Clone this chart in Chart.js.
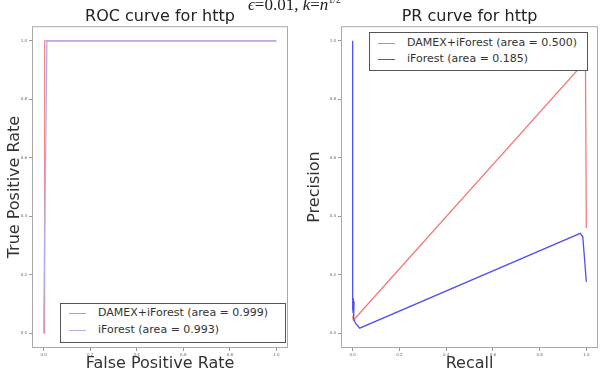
<!DOCTYPE html>
<html>
<head>
<meta charset="utf-8">
<script src="https://cdn.jsdelivr.net/npm/chart.js@4/dist/chart.umd.min.js"></script>
<style>
  body { margin: 0; background: #fff; }
  #wrap { position: relative; width: 603px; height: 380px; overflow: hidden; font-family: 'DejaVu Sans', sans-serif; }
  canvas { position: absolute; top: 0; }
  #roc { left: 0; }
  #pr { left: 300px; }
  .suptitle { position: absolute; left: 248px; top: -6px; font-family: 'Liberation Serif', serif; font-size: 17px; color: #222; white-space: nowrap; }
  .suptitle sup { font-size: 10px; }
  .legend { position: absolute; background: #fff; border: 1px solid #555; font-size: 11px; color: #333; }
  .legend .swatch { position: absolute; width: 17px; height: 0; border-top: 1px solid; }
  .legend .txt { position: absolute; line-height: 13px; white-space: nowrap; }
</style>
</head>
<body>
<div id="wrap">
  <canvas id="roc" width="300" height="380"></canvas>
  <canvas id="pr" width="303" height="380"></canvas>
  <div class="suptitle"><i>ϵ</i>=0.01, <i>k</i>=<i>n</i><sup>1/2</sup></div>
  <div class="legend" id="rocLegend" style="left:60px; top:303px; width:224px; height:38px;"></div>
  <div class="legend" id="prLegend" style="left:369px; top:32px; width:217px; height:37px;"></div>
</div>
<script>
// ROC curve values
const rocFprDamex = [0.003, 0.004, 1.0];
const rocTprDamex = [0.0, 1.0, 1.0];
const rocFprIforest = [0.0, 0.014, 1.0];
const rocTprIforest = [0.0, 1.0, 1.0];
const rocLabels = ['DAMEX+iForest (area = 0.999)', 'iForest (area = 0.993)'];

// PR curve values
const prRecallDamex = [0.0, 0.003, 0.985, 0.996, 1.0];
const prPrecisionDamex = [0.06, 0.045, 0.92, 0.99, 0.36];
const prRecallIforest = [0.0, 0.0, 0.003, 0.001, 0.006, 0.004, 0.012, 0.03, 0.974, 0.985, 1.0];
const prPrecisionIforest = [1.0, 0.08, 0.12, 0.07, 0.11, 0.05, 0.035, 0.018, 0.342, 0.33, 0.176];
const prLabels = ['DAMEX+iForest (area = 0.500)', 'iForest (area = 0.185)'];

const tickValues = [0.0, 0.2, 0.4, 0.6, 0.8, 1.0];

function toPoints(xs, ys) {
    return xs.map((x, i) => ({x: x, y: ys[i]}));
}

const framePlugin = {
    id: 'frame',
    afterDraw(chart) {
        const {ctx, chartArea: a} = chart;
        ctx.save();
        ctx.strokeStyle = '#aaa';
        ctx.lineWidth = 1;
        ctx.strokeRect(a.left + 0.5, a.top + 0.5, a.right - a.left - 1, a.bottom - a.top - 1);
        ctx.restore();
    }
};

function axis(title, titlePadding, fitSize, horizontal) {
    return {
        type: 'linear',
        min: -0.05,
        max: 1.05,
        afterBuildTicks: s => { s.ticks = tickValues.map(v => ({value: v})); },
        afterFit: s => { if (horizontal) s.height = fitSize; else s.width = fitSize; },
        border: {display: false},
        grid: {drawOnChartArea: false, tickLength: 3, color: '#999'},
        ticks: {
            font: {size: 4, family: 'DejaVu Sans'},
            color: '#666',
            padding: 2,
            maxRotation: 0,
            autoSkip: false,
            callback: v => v.toFixed(1)
        },
        title: {
            display: true,
            text: title,
            color: '#333',
            font: {size: 16, family: 'DejaVu Sans'},
            padding: titlePadding
        }
    };
}

function makeChart(id, title, sets, xTitle, yTitle, yWidth, rightPad) {
    return new Chart(document.getElementById(id), {
        type: 'scatter',
        data: {datasets: sets},
        options: {
            responsive: false,
            animation: false,
            layout: {padding: {left: 0, right: rightPad, top: 0, bottom: 0}},
            plugins: {
                legend: {display: false},
                tooltip: {enabled: false},
                title: {
                    display: true,
                    text: title,
                    fullSize: false,
                    color: '#222',
                    font: {size: 16, weight: 'normal', family: 'DejaVu Sans'},
                    padding: {top: 7, bottom: 0}
                }
            },
            scales: {
                x: axis(xTitle, {top: 0, bottom: 7}, 32, true),
                y: axis(yTitle, {top: 5, bottom: 0}, yWidth, false)
            }
        },
        plugins: [framePlugin]
    });
}

// later series sits on top, like the original plot
function line(label, xs, ys, color, order) {
    return {
        label: label,
        data: toPoints(xs, ys),
        showLine: true,
        borderColor: color,
        backgroundColor: color,
        borderWidth: 1.3,
        pointRadius: 0,
        tension: 0,
        order: order
    };
}

const rocSets = [
    line(rocLabels[0], rocFprDamex, rocTprDamex, '#f28a8a', 1),
    line(rocLabels[1], rocFprIforest, rocTprIforest, '#b0acf4', 0)
];
const prSets = [
    line(prLabels[0], prRecallDamex, prPrecisionDamex, '#f27a7a', 1),
    line(prLabels[1], prRecallIforest, prPrecisionIforest, '#5050f0', 0)
];

makeChart('roc', 'ROC curve for http', rocSets, 'False Positive Rate', 'True Positive Rate', 32, 12);
makeChart('pr', 'PR curve for http', prSets, 'Recall', 'Precision', 41, 5);

function buildLegend(id, sets, swatchLeft, textLeft, rowTops) {
    const box = document.getElementById(id);
    sets.forEach((ds, i) => {
        const sw = document.createElement('div');
        sw.className = 'swatch';
        sw.style.borderTopColor = ds.borderColor;
        sw.style.left = swatchLeft + 'px';
        sw.style.top = rowTops[i] + 'px';
        box.appendChild(sw);
        const t = document.createElement('div');
        t.className = 'txt';
        t.textContent = ds.label;
        t.style.left = textLeft + 'px';
        t.style.top = (rowTops[i] - 7) + 'px';
        box.appendChild(t);
    });
}
buildLegend('rocLegend', rocSets, 8, 37, [9, 26]);
buildLegend('prLegend', prSets, 8, 37, [10, 26]);
</script>
</body>
</html>
